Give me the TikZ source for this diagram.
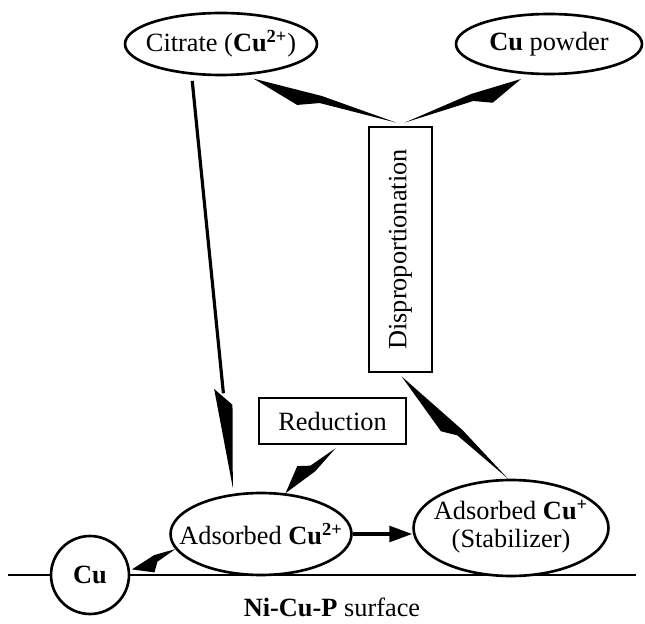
\documentclass[tikz,border=0pt]{standalone}
\usepackage{fontspec}
\setmainfont{Liberation Serif}
\usepackage{graphicx}
\usetikzlibrary{shapes.geometric,calc,arrows.meta}

\tikzset{
  oval/.style={ellipse, draw, fill=white, line width=1.5pt, inner sep=0pt},
  stepbox/.style={rectangle, draw, fill=white, line width=1.5pt, inner sep=0pt},
}

% bolt arrow: tail, tip, barb fraction, notch fraction, barb side
\newcommand{\bolt}[5]{%
  \pgfmathsetmacro{\bother}{0-(#5)}
  \fill[black] (#1) -- ($(#2)!#4!(#1)!2pt!\bother:(#1)$) -- (#2)
    -- ($(#2)!#3!(#1)!7pt!#5:(#1)$) -- ($(#2)!#4!(#1)!2.2pt!#5:(#1)$) -- cycle;}

\begin{document}
\begin{tikzpicture}[x=0.02cm, y=-0.02cm, font=\fontsize{15}{16}\selectfont]
  \useasboundingbox (0,0) rectangle (645,624);
  \draw[line width=1.5pt] (8,575) -- (636,575);  % surface

  \node[oval, minimum width=3.84cm, minimum height=1.24cm] (cit) at (221,44)
    {\makebox[0pt]{Citrate (\textbf{Cu}\textsuperscript{\textbf{2+}})}};
  \node[oval, minimum width=3.72cm, minimum height=1.2cm] (pow) at (549,44)
    {\makebox[0pt]{\textbf{Cu} powder}};
  \node[stepbox, minimum width=1.26cm, minimum height=4.9cm] (dis) at (400.5,249.5)
    {\rotatebox{90}{Disproportionation}};
  \node[stepbox, minimum width=2.94cm, minimum height=0.92cm] (red) at (332.5,421)
    {Reduction};
  \node[oval, minimum width=3.62cm, minimum height=1.64cm] (ads) at (261,534)
    {\makebox[0pt]{Adsorbed \textbf{Cu}\textsuperscript{\textbf{2+}}}};
  \node[oval, minimum width=3.9cm, minimum height=1.92cm] (sta) at (511,528)
    {\makebox[0pt]{\begin{tabular}{@{}c@{}}Adsorbed \textbf{Cu}\textsuperscript{\textbf{+}}\\(Stabilizer)\end{tabular}}};
  \node[circle, draw, fill=white, line width=1.5pt, minimum size=1.56cm, inner sep=0pt] (cu) at (90,575)
    {\textbf{Cu}};
  \node (surf) at (332,607) {\textbf{Ni-Cu-P} surface};

  % disproportionation products
  \coordinate (d1) at ($(dis.north)+(-4,-3)$);
  \coordinate (d2) at ($(dis.north)+(4,-3)$);
  \coordinate (c1) at ($(cit.-45)+(2,4)$);
  \coordinate (p1) at ($(pow.-132)+(-1,5)$);
  \bolt{d1}{c1}{0.33}{0.47}{-90}
  \bolt{d2}{p1}{0.28}{0.42}{90}

  % stabilizer to disproportionation
  \coordinate (s1) at ($(sta.north)+(-3,0)$);
  \coordinate (d3) at ($(dis.south)+(1,3)$);
  \bolt{s1}{d3}{0.45}{0.55}{-90}

  % reduction
  \coordinate (r1) at ($(red.south)+(3,3)$);
  \coordinate (a1) at (ads.59);
  \bolt{r1}{a1}{0.4}{0.55}{90}

  % to Cu
  \coordinate (a2) at (ads.190);
  \coordinate (u1) at ($(cu.8)+(2,0)$);
  \bolt{a2}{u1}{0.4}{0.55}{-90}

  % citrate to adsorbed
  \coordinate (c2) at ($(cit.-133)+(0,6)$);
  \coordinate (a3) at ($(ads.125)+(0,-6)$);
  \draw[line width=1.8pt] (c2) -- ($(a3)!54pt!(c2)$);
  \fill ($(a3)!57pt!(c2)!5pt!90:(c2)$) -- (a3) -- ($(a3)!47pt!(c2)!4.5pt!-90:(c2)$) -- cycle;

  \draw[line width=1.8pt, -{Triangle[length=13pt, width=9pt]}] (ads.east) -- (ads.east -| sta.west);
\end{tikzpicture}
\end{document}
